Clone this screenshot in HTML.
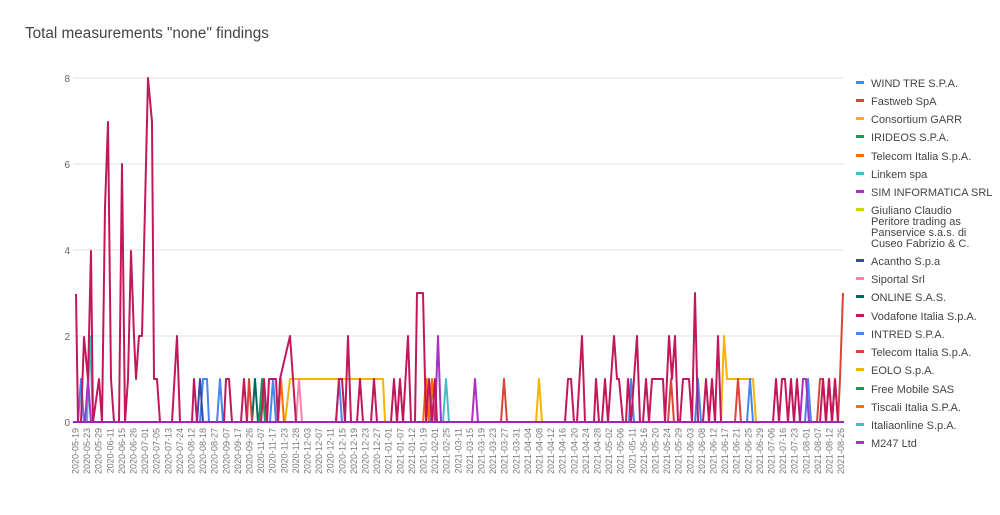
<!DOCTYPE html>
<html><head><meta charset="utf-8"><style>
body{margin:0;background:#fff;}
svg text{font-family:"Liberation Sans",Arial,sans-serif;}
</style></head><body>
<svg width="1000" height="510" xmlns="http://www.w3.org/2000/svg">
<rect width="1000" height="510" fill="#fff"/>
<text x="25" y="38" font-size="15.3" fill="#444">Total measurements "none" findings</text>
<g stroke="#e0e0e0" stroke-width="1">
<line x1="73" y1="78" x2="844" y2="78"/><line x1="73" y1="164" x2="844" y2="164"/>
<line x1="73" y1="250" x2="844" y2="250"/><line x1="73" y1="336" x2="844" y2="336"/>
</g>
<g font-size="10" fill="#666" text-anchor="end">
<text x="70" y="82">8</text><text x="70" y="168">6</text><text x="70" y="254">4</text><text x="70" y="340">2</text><text x="70" y="426">0</text>
</g>
<g fill="none" stroke-width="2" stroke-linejoin="round">
<polyline stroke="#f4b400" points="285,422 290,379 383,379 385,422"/>
<polyline stroke="#f4b400" points="721,422 724,336 727,379 753,379 756,422"/>
<polyline stroke="#f4b400" points="536,422 539,379 542,422"/>
<polyline stroke="#f4b400" points="426,422 428,379 431,422"/>
<polyline stroke="#4285f4" points="78,422 81,379 84,422"/>
<polyline stroke="#4285f4" points="200,422 203,379 207,379 209,422"/>
<polyline stroke="#4285f4" points="217,422 220,379 223,422"/>
<polyline stroke="#4285f4" points="270,422 273,379 276,422"/>
<polyline stroke="#4285f4" points="336,422 339,379 342,422"/>
<polyline stroke="#4285f4" points="629,422 631,379 634,422"/>
<polyline stroke="#4285f4" points="695,422 698,379 701,422"/>
<polyline stroke="#4285f4" points="747,422 750,379 753,422"/>
<polyline stroke="#4285f4" points="805,422 808,379 811,422"/>
<polyline stroke="#4285f4" points="430,422 432,379 435,422"/>
<polyline stroke="#3949ab" points="197,422 200,379 203,422"/>
<polyline stroke="#46bdc6" points="87,422 90,336 93,422"/>
<polyline stroke="#46bdc6" points="443,422 446,379 449,422"/>
<polyline stroke="#00695c" points="252,422 255,379 258,422"/>
<polyline stroke="#0f9d58" points="259,422 262,379 265,422"/>
<polyline stroke="#db4437" points="247,422 249,379 252,422"/>
<polyline stroke="#ff6d00" points="278,422 281,379 284,422"/>
<polyline stroke="#db4437" points="501,422 504,379 507,422"/>
<polyline stroke="#ff6d00" points="423,422 426,379 429,422 432,379 435,422"/>
<polyline stroke="#db4437" points="735,422 738,379 741,422"/>
<polyline stroke="#db4437" points="817,422 820,379 823,379 826,422 829,379 832,422 835,379 838,422 840,379 843,293"/>
<polyline stroke="#db4437" points="668,422 671,379 674,422"/>
<polyline stroke="#ff80ab" points="296,422 299,379 302,422"/>
<polyline stroke="#ab30c4" points="85,422 88,379 91,422"/>
<polyline stroke="#ab30c4" points="435,422 438,336 441,422"/>
<polyline stroke="#ab30c4" points="472,422 475,379 478,422"/>
<polyline stroke="#ab30c4" points="800,422 803,379 806,379 809,422"/>
<polyline stroke="#c2185b" points="76,294 78,422 81,422 84,337 88,379 91,251 93,422 99,379 102,422 105,207 108,122 111,379 114,422 119,422 122,164 125,422 128,379 131,251 134,336 136,379 139,336 142,336 148,78 152,122 154,379 157,379 160,422 172,422 177,336 180,422 192,422 194,379 197,422 224,422 226,379 229,379 232,422 241,422 244,379 247,422 261,422 264,379 267,422 269,379 276,379 278,422 280,379 290,336 296,422 336,422 339,379 342,379 345,422 348,336 351,422 357,422 360,379 363,422 371,422 374,379 377,422 391,422 394,379 397,422 400,379 403,422 408,336 411,422 415,422 417,293 423,293 426,422 429,379 432,422 435,379 437,422 565,422 568,379 571,379 574,422 577,422 582,336 585,422 594,422 596,379 599,422 602,422 605,379 608,422 611,379 614,336 617,379 619,379 623,422 626,422 628,379 631,422 637,336 640,422 643,422 646,379 649,422 652,379 663,379 665,422 669,336 672,379 675,336 678,422 680,422 683,379 689,379 692,422 695,293 698,422 703,422 706,379 709,422 712,379 715,422 718,336 721,422 773,422 776,379 779,422 782,379 785,379 788,422 791,379 794,422 797,379 800,422 820,422 823,379 826,422 829,379 832,422 835,379 838,422"/>
</g>
<line x1="73" y1="422" x2="844" y2="422" stroke="#9c27b0" stroke-width="2"/>
<g font-size="11" fill="#444">
<rect x="856" y="81" width="8" height="3" fill="#4285f4"/><text x="871" y="87">WIND TRE S.P.A.</text>
<rect x="856" y="99" width="8" height="3" fill="#db4437"/><text x="871" y="105">Fastweb SpA</text>
<rect x="856" y="117" width="8" height="3" fill="#f4b400"/><text x="871" y="123">Consortium GARR</text>
<rect x="856" y="135" width="8" height="3" fill="#0f9d58"/><text x="871" y="141">IRIDEOS S.P.A.</text>
<rect x="856" y="154" width="8" height="3" fill="#ff6d00"/><text x="871" y="160">Telecom Italia S.p.A.</text>
<rect x="856" y="172" width="8" height="3" fill="#46bdc6"/><text x="871" y="178">Linkem spa</text>
<rect x="856" y="190" width="8" height="3" fill="#ab30c4"/><text x="871" y="196">SIM INFORMATICA SRL</text>
<rect x="856" y="208" width="8" height="3" fill="#c5d600"/><text x="871" y="214">Giuliano Claudio</text><text x="871" y="225">Peritore trading as</text><text x="871" y="236">Panservice s.a.s. di</text><text x="871" y="247">Cuseo Fabrizio &amp; C.</text>
<rect x="856" y="259" width="8" height="3" fill="#3949ab"/><text x="871" y="265">Acantho S.p.a</text>
<rect x="856" y="277" width="8" height="3" fill="#ff80ab"/><text x="871" y="283">Siportal Srl</text>
<rect x="856" y="295" width="8" height="3" fill="#00695c"/><text x="871" y="301">ONLINE S.A.S.</text>
<rect x="856" y="314" width="8" height="3" fill="#c2185b"/><text x="871" y="320">Vodafone Italia S.p.A.</text>
<rect x="856" y="332" width="8" height="3" fill="#4285f4"/><text x="871" y="338">INTRED S.P.A.</text>
<rect x="856" y="350" width="8" height="3" fill="#db4437"/><text x="871" y="356">Telecom Italia S.p.A.</text>
<rect x="856" y="368" width="8" height="3" fill="#f4b400"/><text x="871" y="374">EOLO S.p.A.</text>
<rect x="856" y="387" width="8" height="3" fill="#0f9d58"/><text x="871" y="393">Free Mobile SAS</text>
<rect x="856" y="405" width="8" height="3" fill="#ff6d00"/><text x="871" y="411">Tiscali Italia S.P.A.</text>
<rect x="856" y="423" width="8" height="3" fill="#46bdc6"/><text x="871" y="429">Italiaonline S.p.A.</text>
<rect x="856" y="441" width="8" height="3" fill="#ab30c4"/><text x="871" y="447">M247 Ltd</text>
</g>
<g font-size="9" fill="#777" text-anchor="end">
<text transform="translate(78.5,428) rotate(-90)">2020-05-19</text>
<text transform="translate(90.1,428) rotate(-90)">2020-05-23</text>
<text transform="translate(101.7,428) rotate(-90)">2020-05-29</text>
<text transform="translate(113.3,428) rotate(-90)">2020-06-11</text>
<text transform="translate(124.9,428) rotate(-90)">2020-06-15</text>
<text transform="translate(136.5,428) rotate(-90)">2020-06-26</text>
<text transform="translate(148.1,428) rotate(-90)">2020-07-01</text>
<text transform="translate(159.7,428) rotate(-90)">2020-07-05</text>
<text transform="translate(171.3,428) rotate(-90)">2020-07-13</text>
<text transform="translate(182.9,428) rotate(-90)">2020-07-24</text>
<text transform="translate(194.5,428) rotate(-90)">2020-08-12</text>
<text transform="translate(206.1,428) rotate(-90)">2020-08-18</text>
<text transform="translate(217.7,428) rotate(-90)">2020-08-27</text>
<text transform="translate(229.3,428) rotate(-90)">2020-09-07</text>
<text transform="translate(240.9,428) rotate(-90)">2020-09-17</text>
<text transform="translate(252.5,428) rotate(-90)">2020-09-26</text>
<text transform="translate(264.1,428) rotate(-90)">2020-11-07</text>
<text transform="translate(275.7,428) rotate(-90)">2020-11-17</text>
<text transform="translate(287.3,428) rotate(-90)">2020-11-23</text>
<text transform="translate(298.9,428) rotate(-90)">2020-11-28</text>
<text transform="translate(310.5,428) rotate(-90)">2020-12-03</text>
<text transform="translate(322.1,428) rotate(-90)">2020-12-07</text>
<text transform="translate(333.7,428) rotate(-90)">2020-12-11</text>
<text transform="translate(345.3,428) rotate(-90)">2020-12-15</text>
<text transform="translate(356.9,428) rotate(-90)">2020-12-19</text>
<text transform="translate(368.5,428) rotate(-90)">2020-12-23</text>
<text transform="translate(380.1,428) rotate(-90)">2020-12-27</text>
<text transform="translate(391.7,428) rotate(-90)">2021-01-01</text>
<text transform="translate(403.3,428) rotate(-90)">2021-01-07</text>
<text transform="translate(414.9,428) rotate(-90)">2021-01-12</text>
<text transform="translate(426.5,428) rotate(-90)">2021-01-19</text>
<text transform="translate(438.1,428) rotate(-90)">2021-02-01</text>
<text transform="translate(449.7,428) rotate(-90)">2021-02-25</text>
<text transform="translate(461.3,428) rotate(-90)">2021-03-11</text>
<text transform="translate(472.9,428) rotate(-90)">2021-03-15</text>
<text transform="translate(484.5,428) rotate(-90)">2021-03-19</text>
<text transform="translate(496.1,428) rotate(-90)">2021-03-23</text>
<text transform="translate(507.7,428) rotate(-90)">2021-03-27</text>
<text transform="translate(519.3,428) rotate(-90)">2021-03-31</text>
<text transform="translate(530.9,428) rotate(-90)">2021-04-04</text>
<text transform="translate(542.5,428) rotate(-90)">2021-04-08</text>
<text transform="translate(554.1,428) rotate(-90)">2021-04-12</text>
<text transform="translate(565.7,428) rotate(-90)">2021-04-16</text>
<text transform="translate(577.3,428) rotate(-90)">2021-04-20</text>
<text transform="translate(588.9,428) rotate(-90)">2021-04-24</text>
<text transform="translate(600.5,428) rotate(-90)">2021-04-28</text>
<text transform="translate(612.1,428) rotate(-90)">2021-05-02</text>
<text transform="translate(623.7,428) rotate(-90)">2021-05-06</text>
<text transform="translate(635.3,428) rotate(-90)">2021-05-11</text>
<text transform="translate(646.9,428) rotate(-90)">2021-05-16</text>
<text transform="translate(658.5,428) rotate(-90)">2021-05-20</text>
<text transform="translate(670.1,428) rotate(-90)">2021-05-24</text>
<text transform="translate(681.7,428) rotate(-90)">2021-05-29</text>
<text transform="translate(693.3,428) rotate(-90)">2021-06-03</text>
<text transform="translate(704.9,428) rotate(-90)">2021-06-08</text>
<text transform="translate(716.5,428) rotate(-90)">2021-06-12</text>
<text transform="translate(728.1,428) rotate(-90)">2021-06-17</text>
<text transform="translate(739.7,428) rotate(-90)">2021-06-21</text>
<text transform="translate(751.3,428) rotate(-90)">2021-06-25</text>
<text transform="translate(762.9,428) rotate(-90)">2021-06-29</text>
<text transform="translate(774.5,428) rotate(-90)">2021-07-06</text>
<text transform="translate(786.1,428) rotate(-90)">2021-07-16</text>
<text transform="translate(797.7,428) rotate(-90)">2021-07-23</text>
<text transform="translate(809.3,428) rotate(-90)">2021-08-01</text>
<text transform="translate(820.9,428) rotate(-90)">2021-08-07</text>
<text transform="translate(832.5,428) rotate(-90)">2021-08-12</text>
<text transform="translate(844.1,428) rotate(-90)">2021-08-26</text>
</g>
</svg>
</body></html>
